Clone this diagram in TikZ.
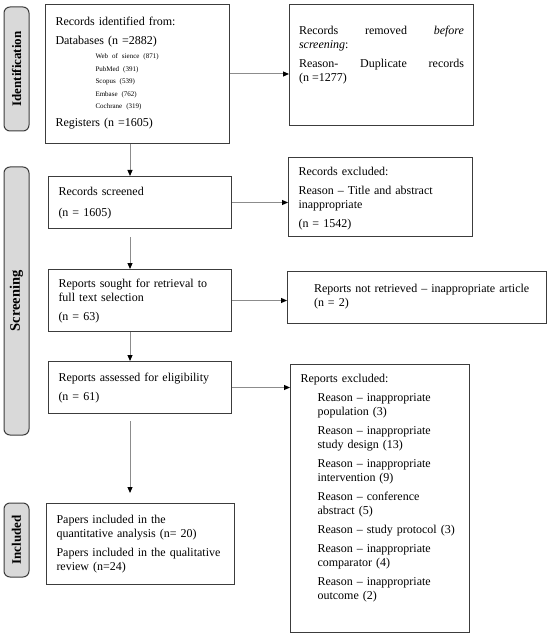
\documentclass[tikz,border=0pt]{standalone}
\usepackage{fontspec}
\setmainfont{Liberation Serif}
\usetikzlibrary{arrows.meta}
\definecolor{tabgray}{HTML}{D9D9D9}
\definecolor{boxline}{HTML}{3C3C3C}
\definecolor{flowgray}{HTML}{8C8C8C}

\begin{document}
\begin{tikzpicture}[x=1pt,y=-1pt,
  every node/.style={font=\fontsize{12}{14}\selectfont},
  box/.style={draw=boxline, line width=1pt, anchor=north west, inner xsep=10pt,
    inner ysep=0pt, align=left, execute at begin node={\setlength{\parskip}{5pt}}},
  tab/.style={draw=boxline, line width=1pt, fill=tabgray, rounded corners=6pt,
    rotate=90, minimum height=25pt, inner sep=0pt,
    font=\fontsize{13}{15}\selectfont\bfseries},
  flow/.style={draw=flowgray, line width=1pt,
    -{Triangle[length=6pt,width=5pt,color=black]}}]
  \useasboundingbox (0,0) rectangle (550,636);

  % phase tabs
  \node[tab, minimum width=124pt] (tabid) at (16.5,69) {Identification};
  \node[tab, minimum width=268pt, font=\fontsize{14.5}{16}\selectfont\bfseries] (tabscr) at (16.5,301) {Screening};
  \node[tab, minimum width=74pt] (tabinc) at (16.5,540) {Included};

  % left column
  \node[box, text width=164pt, text height=21pt, text depth=118pt] (ident) at (45,4) {%
    Records identified from:\par
    Databases (n =2882)\par
    {\fontsize{7}{12.5}\selectfont\setlength{\parskip}{0pt}\leftskip=40pt\vspace{2pt}
     Web of sience (871)\par PubMed (391)\par Scopus (539)\par
     Embase (762)\par Cochrane (319)\par}
    \vspace{-1.5pt}Registers (n =1605)};
  \node[box, text width=163pt, text height=19pt, text depth=33pt] (screened) at (48,176) {%
    Records screened\par\vspace{2pt}(n = 1605)};
  \node[box, text width=163pt, text height=18pt, text depth=44pt] (sought) at (48,269) {%
    Reports sought for retrieval to\\ full text selection\par (n = 63)};
  \node[box, text width=163pt, text height=20pt, text depth=32pt] (assessed) at (48,361) {%
    Reports assessed for eligibility\par (n = 61)};
  \node[box, text width=168pt, text height=20pt, text depth=61pt] (incl) at (46,503) {%
    Papers included in the\\ quantitative analysis (n= 20)\par
    Papers included in the qualitative\\ review (n=24)};

  % right column
  \node[box, align=justify, inner xsep=9.5pt, text width=165pt, text height=30pt, text depth=91pt] (removed) at (289,4) {%
    Records removed \textit{before}\linebreak \textit{screening}:\par
    Reason- Duplicate records\linebreak (n =1277)};
  \node[box, text width=164pt, text height=18pt, text depth=61pt] (excl) at (288,157) {%
    Records excluded:\par
    Reason -- Title and abstract\\ inappropriate\par
    (n = 1542)};
  \node[box, inner xsep=13.5pt, text width=232pt, text height=21pt, text depth=31pt] (notret) at (287,271) {%
    {\leftskip=13pt Reports not retrieved -- inappropriate article\\ (n = 2)\par}};
  \node[box, text width=159pt, text height=18pt, text depth=250pt] (reports) at (290,364) {%
    Reports excluded:\par
    {\leftskip=17pt
     Reason -- inappropriate\\ population (3)\par
     Reason -- inappropriate\\ study design (13)\par
     Reason -- inappropriate\\ intervention (9)\par
     Reason -- conference\\ abstract (5)\par
     Reason -- study protocol (3)\par
     Reason -- inappropriate\\ comparator (4)\par
     Reason -- inappropriate\\ outcome (2)\par}};

  % connectors
  \coordinate (mid) at (130,0);
  \draw[flow] (ident.east) -- (ident.east -| removed.west);
  \draw[flow] (ident.south -| mid) -- (screened.north -| mid);
  \draw[flow] (screened.east) -- (screened.east -| excl.west);
  \draw[flow, shorten <=8pt] (screened.south -| mid) -- (sought.north -| mid);
  \draw[flow] (sought.east) -- (sought.east -| notret.west);
  \draw[flow] (sought.south -| mid) -- (assessed.north -| mid);
  \draw[flow] (assessed.east) -- (assessed.east -| reports.west);
  \draw[flow, shorten <=7pt, shorten >=10pt] (assessed.south -| mid) -- (incl.north -| mid);
\end{tikzpicture}
\end{document}
